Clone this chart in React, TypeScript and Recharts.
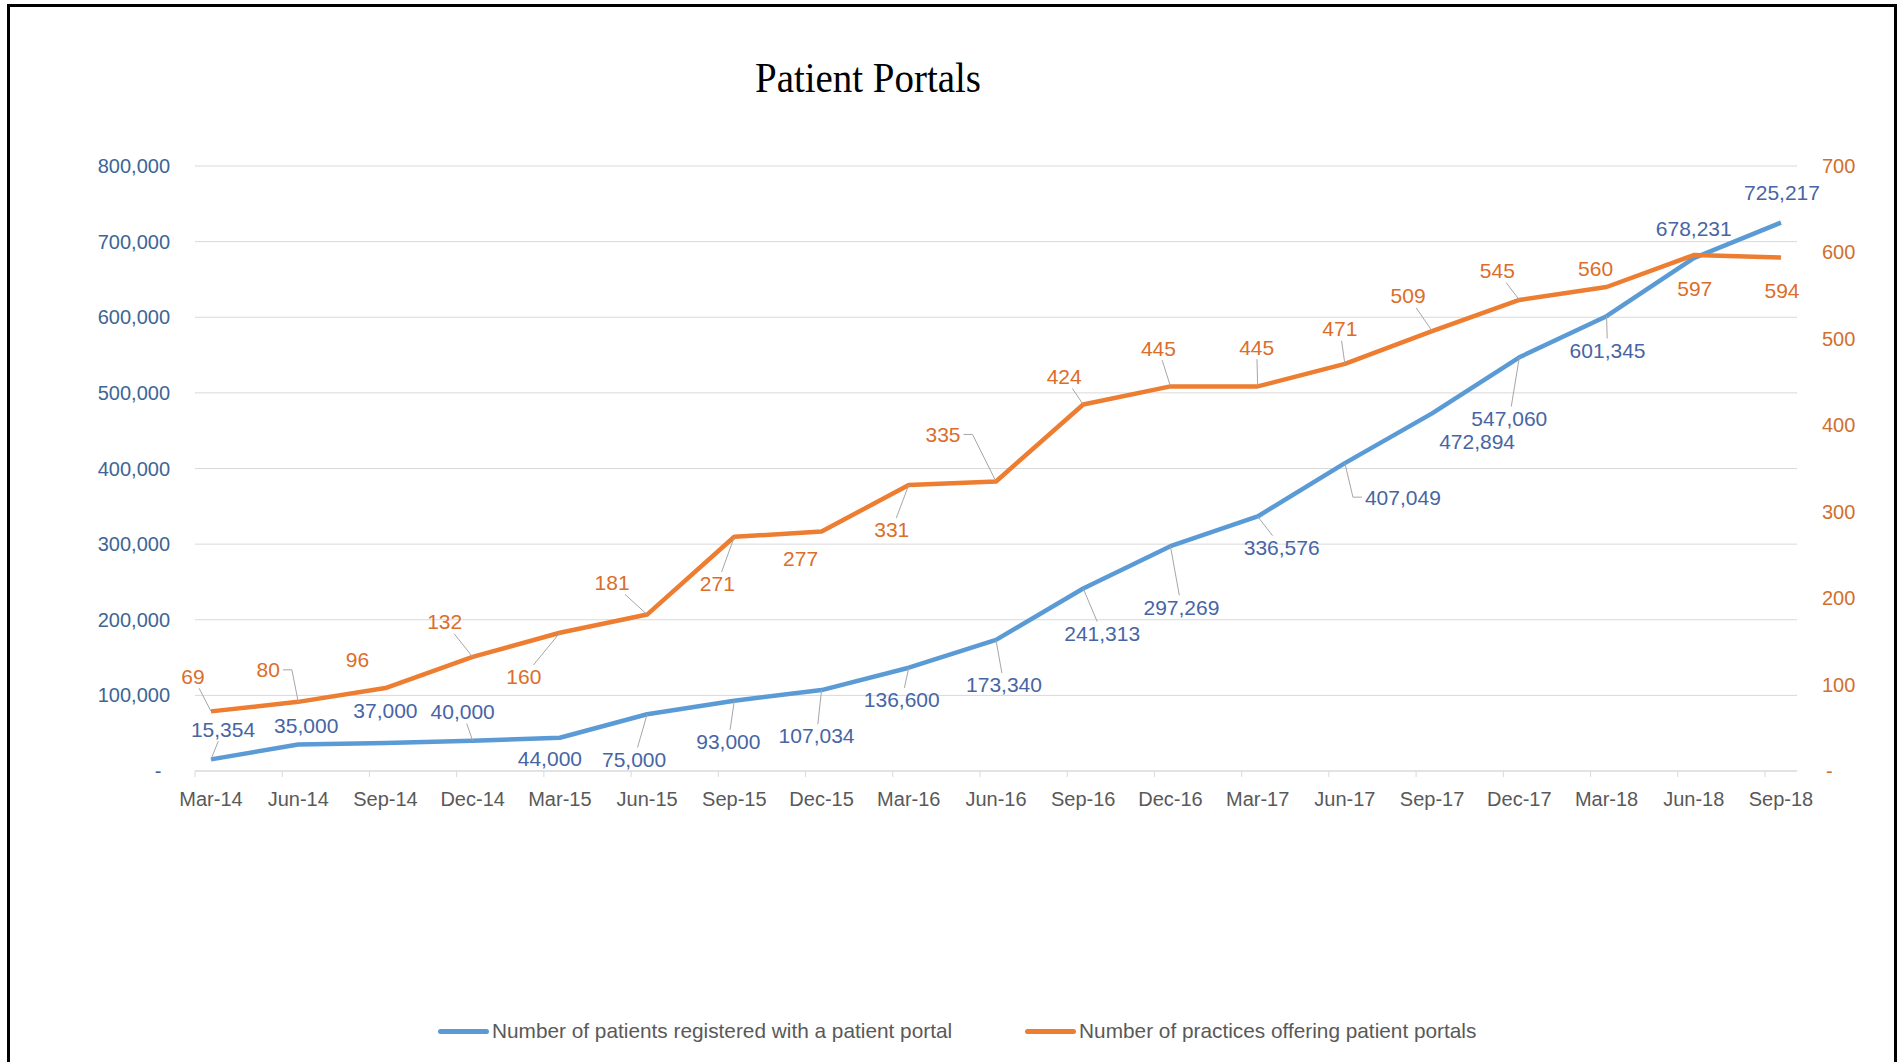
import React from 'react';
import { LineChart, Line, XAxis, YAxis, CartesianGrid, Legend, LabelList } from 'recharts';

const categories = ['Mar-14', 'Jun-14', 'Sep-14', 'Dec-14', 'Mar-15', 'Jun-15', 'Sep-15', 'Dec-15', 'Mar-16', 'Jun-16', 'Sep-16', 'Dec-16', 'Mar-17', 'Jun-17', 'Sep-17', 'Dec-17', 'Mar-18', 'Jun-18', 'Sep-18'];
const patients = [15354, 35000, 37000, 40000, 44000, 75000, 93000, 107034, 136600, 173340, 241313, 297269, 336576, 407049, 472894, 547060, 601345, 678231, 725217];
const practices = [69, 80, 96, 132, 160, 181, 271, 277, 331, 335, 424, 445, 445, 471, 509, 545, 560, 597, 594];
const leftTicks = [0, 100000, 200000, 300000, 400000, 500000, 600000, 700000, 800000];
const rightTicks = [0, 100, 200, 300, 400, 500, 600, 700];
const seriesNames = ['Number of patients registered with a patient portal', 'Number of practices offering patient portals'];
const title = 'Patient Portals';

const data = categories.map((c, i) => ({ period: c, patients: patients[i], practices: practices[i] }));

// label placement (offset from the point, px) and leader style: 0 none, 1 straight, 2 elbow
const blueOffsets: [number, number][] = [[12, -30], [8, -19], [0, -32], [-10, -29], [-10, 21], [-13, 45], [-6, 41], [-5, 46], [-7, 32], [8, 45], [19, 45], [11, 61], [24, 31], [58, 34], [45, 28], [-10, 61], [1, 34], [0, -29], [1, -30]];
const blueLeaders = [1, 0, 0, 1, 0, 1, 1, 1, 1, 1, 1, 1, 1, 2, 0, 1, 1, 0, 0];
const orangeOffsets: [number, number][] = [[-18, -35], [-30, -32], [-28, -28], [-28, -35], [-36, 44], [-35, -32], [-17, 47], [-21, 27], [-17, 45], [-53, -47], [-19, -28], [-12, -38], [-1, -39], [-5, -35], [-24, -35], [-22, -29], [-11, -18], [1, 34], [1, 33]];
const orangeLeaders = [1, 2, 0, 1, 1, 1, 1, 0, 1, 2, 1, 1, 1, 1, 1, 1, 0, 0, 0];

const FONT = '"Liberation Sans", Arial, sans-serif';
const BLUE = '#5b9bd5';
const ORANGE = '#ed7d31';
const BLUE_TXT = '#4765a5';
const ORANGE_TXT = '#dc6d2a';
const LEFT_AX = '#3d6595';
const RIGHT_AX = '#d0702e';
const GRID = '#d9d9d9';
const LEADER = '#a6a6a6';
const LABEL_SIZE = 21;

const fmt = (v: number) => v.toLocaleString('en-US');

function textWidth(s: string, size: number) {
  let w = 0;
  for (const ch of s) w += ch === ',' ? 0.278 : 0.556;
  return w * size;
}

function makeLabel(offsets: [number, number][], leaders: number[], color: string, format: (v: number) => string) {
  return (props: any) => {
    const { x, y, value, index } = props;
    if (x == null || y == null || index == null) return null;
    const [ox, oy] = offsets[index];
    const cx = x + ox;
    const cy = y + oy;
    const txt = format(Number(value));
    const hw = textWidth(txt, LABEL_SIZE) / 2 + 3;
    const hh = LABEL_SIZE * 0.42 + 3;
    let leader: React.ReactNode = null;
    const kind = leaders[index];
    if (kind === 1) {
      const dx = x - cx;
      const dy = y - cy;
      const tx = dx !== 0 ? hw / Math.abs(dx) : Infinity;
      const ty = dy !== 0 ? hh / Math.abs(dy) : Infinity;
      const t = Math.min(tx, ty);
      if (t < 0.95) {
        leader = <line x1={cx + dx * t} y1={cy + dy * t} x2={x} y2={y} stroke={LEADER} strokeWidth={1} />;
      }
    } else if (kind === 2) {
      const side = x >= cx ? 1 : -1;
      const sx = cx + side * hw;
      let ex = cx + side * (hw + 9);
      if (side * (x - ex) < 0) ex = x;
      leader = <polyline points={`${sx},${cy} ${ex},${cy} ${x},${y}`} fill="none" stroke={LEADER} strokeWidth={1} />;
    }
    return (
      <g key={`lbl-${index}`}>
        {leader}
        <text x={cx} y={cy} dy="0.35em" textAnchor="middle" fill={color} fontSize={LABEL_SIZE} fontFamily={FONT}>
          {txt}
        </text>
      </g>
    );
  };
}

const LeftTick = (props: any) => {
  const { x, y, payload } = props;
  const v = payload.value;
  return (
    <text x={v === 0 ? x - 12 : x} y={y} dy="0.35em" textAnchor={v === 0 ? 'middle' : 'end'} fill={LEFT_AX} fontSize={20} fontFamily={FONT}>
      {v === 0 ? '-' : fmt(v)}
    </text>
  );
};

const RightTick = (props: any) => {
  const { x, y, payload } = props;
  const v = payload.value;
  return (
    <text x={v === 0 ? x + 4 : x} y={y} dy="0.35em" textAnchor="start" fill={RIGHT_AX} fontSize={20} fontFamily={FONT}>
      {v === 0 ? '-' : fmt(v)}
    </text>
  );
};

const XTick = (props: any) => {
  const { x, y, payload } = props;
  return (
    <g>
      <line x1={x - 16} x2={x - 16} y1={y} y2={y + 6} stroke={GRID} strokeWidth={1} />
      <text x={x} y={y + 28} dy="0.35em" textAnchor="middle" fill="#595959" fontSize={20} fontFamily={FONT}>
        {payload.value}
      </text>
    </g>
  );
};

const LegendContent = () => (
  <div style={{ display: 'flex', alignItems: 'center', height: 30, paddingLeft: 438, fontFamily: FONT, fontSize: 20.8, color: '#595959', whiteSpace: 'nowrap' }}>
    {seriesNames.map((n, i) => (
      <div key={n} style={{ display: 'flex', alignItems: 'center', marginRight: i === 0 ? 73 : 0 }}>
        <div style={{ width: 51, height: 5, borderRadius: 3, background: i === 0 ? BLUE : ORANGE, marginRight: 3 }} />
        <span>{n}</span>
      </div>
    ))}
  </div>
);

export default function App() {
  return (
    <div style={{ position: 'absolute', left: 0, top: 0, width: 1901, height: 1062, background: '#fff', overflow: 'hidden' }}>
      <div style={{ position: 'absolute', left: 7, top: 4, width: 1890, height: 1100, border: '3px solid #000', boxSizing: 'border-box' }} />
      <LineChart width={1901} height={1062} data={data} margin={{ top: 166, right: 0, left: 0, bottom: 221 }}>
        <CartesianGrid yAxisId="left" vertical={false} stroke={GRID} strokeWidth={1} />
        <XAxis dataKey="period" interval={0} height={40} padding={{ left: 16, right: 16 }} tickSize={0} tickMargin={0} tickLine={false} axisLine={{ stroke: GRID, strokeWidth: 1 }} tick={<XTick />} />
        <YAxis yAxisId="left" orientation="left" width={195} domain={[0, 800000]} ticks={leftTicks} axisLine={false} tickLine={false} tickSize={0} tickMargin={25} tick={<LeftTick />} />
        <YAxis yAxisId="right" orientation="right" width={104} domain={[0, 700]} ticks={rightTicks} axisLine={false} tickLine={false} tickSize={0} tickMargin={25} tick={<RightTick />} />
        <Legend verticalAlign="bottom" height={30} wrapperStyle={{ top: 1016, bottom: 'auto', left: 0, width: 1901 }} content={<LegendContent />} />
        <Line yAxisId="left" type="linear" dataKey="patients" name={seriesNames[0]} stroke={BLUE} strokeWidth={4.5} dot={false} isAnimationActive={false} strokeLinejoin="round">
          <LabelList dataKey="patients" content={makeLabel(blueOffsets, blueLeaders, BLUE_TXT, fmt)} />
        </Line>
        <Line yAxisId="right" type="linear" dataKey="practices" name={seriesNames[1]} stroke={ORANGE} strokeWidth={4.5} dot={false} isAnimationActive={false} strokeLinejoin="round">
          <LabelList dataKey="practices" content={makeLabel(orangeOffsets, orangeLeaders, ORANGE_TXT, fmt)} />
        </Line>
      </LineChart>
      <svg width={1901} height={1062} style={{ position: 'absolute', left: 0, top: 0, pointerEvents: 'none' }}>
        <text x={868} y={92} textAnchor="middle" fontFamily='"Liberation Serif", "DejaVu Serif", serif' fontSize={42} textLength={226} lengthAdjust="spacingAndGlyphs" fill="#000">
          {title}
        </text>
      </svg>
    </div>
  );
}
